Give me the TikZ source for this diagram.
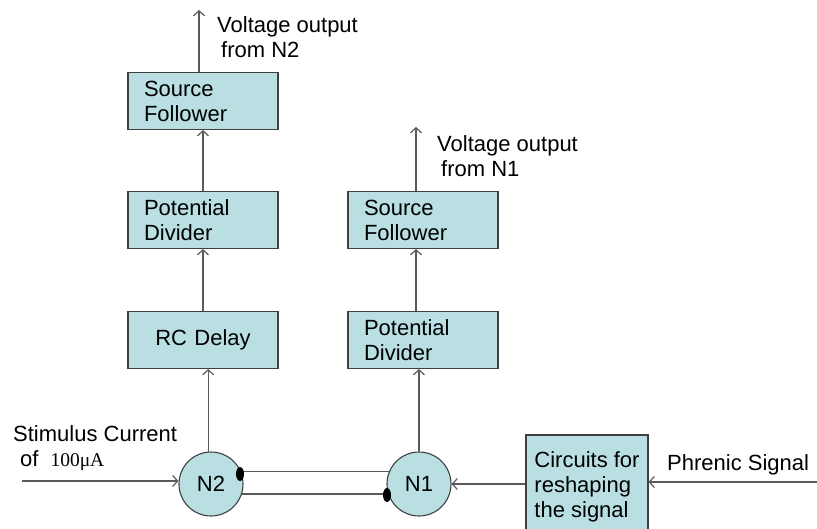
\documentclass[tikz,border=0pt]{standalone}
\usepackage{fontspec}
\setmainfont{Liberation Sans}
\newfontfamily\unitfont{Liberation Serif}
\usepackage{xcolor}
\definecolor{cellcyan}{HTML}{B9DFE2}
\definecolor{edgegray}{HTML}{404040}
\definecolor{wiregray}{HTML}{5A5A5A}
\usetikzlibrary{shapes.geometric, arrows.meta, positioning, calc}

\begin{document}
\begin{tikzpicture}[x=1pt, y=-1pt,
    every node/.style={font=\fontsize{22}{25}\selectfont},
    block/.style={rectangle, draw=edgegray, fill=cellcyan, line width=1.1pt,
                  minimum width=150pt, minimum height=57pt, inner xsep=16pt,
                  text width=118pt, align=left},
    neuron/.style={circle, draw=edgegray, fill=cellcyan, line width=1.1pt,
                   minimum size=64pt, inner sep=0pt},
    synapse/.style={ellipse, fill=black, minimum width=8pt, minimum height=14pt,
                    inner sep=0pt},
    wire/.style={draw=wiregray, line width=1.2pt},
    sig/.style={wire, -{Straight Barb[length=5pt, width=11pt]}},
    caption/.style={inner sep=0pt, align=left}]
  \useasboundingbox (0,0) rectangle (817,529);

  % the two columns of blocks
  \foreach \name/\x/\y/\label in {
      sfB/203/101/Source\\Follower,
      pdB/203/220/Potential\\Divider,
      sfA/423/220/Source\\Follower,
      pdA/423/340/Potential\\Divider}{
    \node[block] (\name) at (\x,\y) {\label};
  }
  \node[block, align=center] (rcB) at (203,340) {RC Delay};

  % neurons
  \node[neuron] (n2) at (211,484) {N2};
  \node[neuron] (n1) at (419,484) {N1};
  \node[rectangle, draw=edgegray, fill=cellcyan, line width=1.1pt,
        minimum width=122pt, minimum height=104pt, inner xsep=4pt,
        align=left] (circ) at (587,487)
        {Circuits for\\reshaping\\the signal};

  \coordinate (outB) at (199,10);
  \coordinate (outA) at (416,127);
  \coordinate (stim) at (22,481);
  \coordinate (phr) at (817,482);

  % signal path
  \draw[sig] (n2.95) -- (n2.95 |- rcB.south);
  \draw[sig] (rcB.north) -- (pdB.south);
  \draw[sig] (pdB.north) -- (sfB.south);
  \draw[sig] (sfB.north -| outB) -- (outB);
  \draw[sig] (n1.north) -- (n1.north |- pdA.south);
  \draw[sig] (pdA.north -| outA) -- (sfA.south -| outA);
  \draw[sig] (sfA.north -| outA) -- (outA);
  \draw[sig] (stim) -- (stim -| n2.west);
  \draw[sig] (phr) -- (phr -| circ.east);
  \draw[sig] (circ.west |- n1.east) -- (n1.east);

  % mutual links
  \draw[wire] (n2.22) -- (n1.158);
  \draw[wire] (n2.-18) -- (n1.198);
  \node[synapse] (synB) at (240,474) {};
  \node[synapse] (synA) at (387,495) {};

  % captions
  \node[caption, anchor=north west] (voutB) at (217,16)
    {Voltage output\\\hspace{4pt}from N2};
  \node[caption, anchor=north west] (voutA) at (437,135)
    {Voltage output\\\hspace{4pt}from N1};
  \node[caption, anchor=north west] (stimtxt) at (13,425)
    {Stimulus Current\\\hspace{7pt}of\hspace{12pt}{\unitfont\fontsize{19.5}{25}\selectfont 100μA}};
  \node[caption, anchor=base west] (phrtxt) at (667,470) {Phrenic Signal};
\end{tikzpicture}
\end{document}
